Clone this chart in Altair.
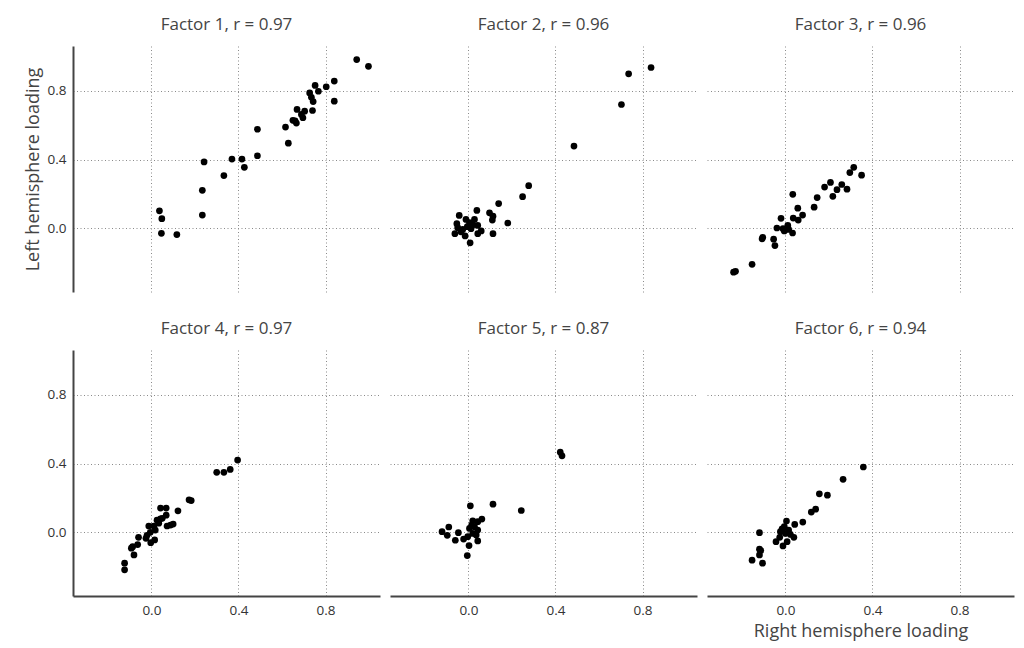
import altair as alt
import pandas as pd

titles = ["Factor 1, r = 0.97", "Factor 2, r = 0.96", "Factor 3, r = 0.96",
          "Factor 4, r = 0.97", "Factor 5, r = 0.87", "Factor 6, r = 0.94"]

f1_right = [0.943, 0.997, 0.840, 0.803, 0.752, 0.767, 0.727, 0.735, 0.743, 0.840, 0.740,
            0.669, 0.704, 0.696, 0.650, 0.666, 0.616, 0.629, 0.487, 0.487, 0.416, 0.370,
            0.427, 0.333, 0.242, 0.234, 0.234, 0.037, 0.048, 0.046, 0.117, 0.689, 0.660]
f1_left = [0.981, 0.942, 0.856, 0.823, 0.831, 0.797, 0.787, 0.762, 0.737, 0.739, 0.685,
           0.691, 0.681, 0.643, 0.628, 0.612, 0.589, 0.495, 0.576, 0.422, 0.403, 0.403,
           0.355, 0.307, 0.386, 0.221, 0.077, 0.102, 0.056, -0.029, -0.036, 0.662, 0.625]

f2_right = [0.839, 0.736, 0.703, 0.485, 0.277, 0.249, 0.181, 0.139, 0.110, 0.113, 0.097,
            0.039, -0.042, -0.053, -0.062, -0.015, 0.008, -0.011, 0.028, 0.043, 0.012,
            0.043, -0.026, 0.005, 0.113, 0.059, -0.034, -0.049, 0.020, -0.005]
f2_left = [0.935, 0.898, 0.720, 0.478, 0.248, 0.184, 0.031, 0.144, 0.048, -0.031, 0.090,
           0.104, 0.075, 0.027, -0.031, -0.044, -0.084, 0.052, 0.052, 0.017, -0.002,
           -0.031, -0.006, 0.033, 0.071, -0.015, -0.020, 0.004, 0.020, 0.010]

f3_right = [0.314, 0.296, 0.350, 0.259, 0.283, 0.237, 0.207, 0.180, 0.218, 0.146, 0.132,
            0.034, 0.057, 0.079, 0.059, 0.036, -0.020, -0.039, -0.011, 0.011, 0.015,
            0.033, -0.005, -0.104, -0.107, -0.054, -0.048, -0.153, -0.229, -0.238]
f3_left = [0.355, 0.324, 0.309, 0.255, 0.228, 0.225, 0.267, 0.240, 0.186, 0.179, 0.123,
           0.198, 0.117, 0.077, 0.048, 0.060, 0.058, 0.002, -0.002, 0.017, -0.006,
           -0.027, -0.015, -0.052, -0.061, -0.063, -0.100, -0.209, -0.250, -0.255]

f4_right = [0.396, 0.362, 0.333, 0.300, 0.183, 0.173, 0.122, 0.100, 0.088, 0.068, 0.042,
            0.068, 0.042, 0.072, 0.026, 0.011, -0.012, 0.018, -0.005, -0.020, 0.015,
            -0.003, -0.025, -0.059, -0.063, -0.086, -0.092, -0.080, -0.123, -0.123,
            0.034, 0.050]
f4_left = [0.420, 0.366, 0.349, 0.349, 0.185, 0.189, 0.125, 0.048, 0.042, 0.141, 0.141,
           0.100, 0.079, 0.037, 0.071, 0.037, 0.037, 0.013, 0.000, -0.017, -0.044,
           -0.060, -0.035, -0.029, -0.071, -0.083, -0.092, -0.131, -0.179, -0.218,
           0.053, 0.082]

f5_right = [0.422, 0.430, 0.243, 0.113, 0.009, 0.062, 0.043, 0.020, 0.028, 0.043, 0.005,
            0.020, -0.003, 0.043, 0.003, -0.005, -0.022, -0.046, -0.060, -0.090, -0.097,
            -0.121, 0.015, 0.036]
f5_left = [0.466, 0.445, 0.127, 0.164, 0.154, 0.077, 0.062, 0.067, 0.033, 0.013, 0.023,
           -0.006, -0.025, -0.050, -0.077, -0.135, -0.039, -0.002, -0.046, 0.031, -0.017,
           0.004, 0.042, -0.015]

f6_right = [0.358, 0.265, 0.156, 0.193, 0.139, 0.119, 0.080, 0.043, 0.005, -0.005, 0.015,
            -0.023, 0.000, 0.039, 0.008, -0.011, -0.043, -0.026, -0.119, -0.119, -0.113,
            -0.119, -0.153, -0.105, -0.015, 0.023]
f6_left = [0.380, 0.308, 0.224, 0.216, 0.135, 0.118, 0.060, 0.046, 0.066, 0.033, 0.013,
           0.004, -0.006, -0.029, -0.054, -0.079, -0.054, -0.029, -0.002, -0.098, -0.106,
           -0.131, -0.162, -0.179, 0.020, -0.012]

series = [(f1_right, f1_left), (f2_right, f2_left), (f3_right, f3_left),
          (f4_right, f4_left), (f5_right, f5_left), (f6_right, f6_left)]

tick_values = [0.0, 0.4, 0.8]
x_domain = [-0.36, 1.05]
y_domain = [-0.37, 1.06]

FONT = "Open Sans"
TXT = "#444444"

charts = []
for i, (title, (xs, ys)) in enumerate(zip(titles, series)):
    df = pd.DataFrame({"right": xs, "left": ys})
    left_col = i % 3 == 0
    bottom_row = i >= 3
    x_axis = alt.Axis(
        values=tick_values, format=".1f", grid=True, ticks=False,
        labels=bottom_row, domain=bottom_row, domainColor=TXT, domainWidth=2,
        labelPadding=7, labelFontSize=13.5, labelColor="#333333", labelFont=FONT,
        title="Right hemisphere loading" if i == 5 else None,
        titleFontSize=18, titleFontWeight="normal", titleColor=TXT, titleFont=FONT,
        titlePadding=6,
        gridColor="#8a8a8a", gridDash=[1, 2.5], gridWidth=1,
    )
    y_axis = alt.Axis(
        values=tick_values, format=".1f", grid=True, ticks=False,
        labels=left_col, domain=left_col, domainColor=TXT, domainWidth=2,
        labelPadding=7, labelFontSize=13.5, labelColor="#333333", labelFont=FONT,
        title="Left hemisphere loading" if i == 0 else None,
        titleFontSize=18, titleFontWeight="normal", titleColor=TXT, titleFont=FONT,
        titlePadding=5,
        gridColor="#8a8a8a", gridDash=[1, 2.5], gridWidth=1,
    )
    c = alt.Chart(df).mark_circle(size=45, color="black", opacity=1).encode(
        x=alt.X("right:Q", scale=alt.Scale(domain=x_domain, nice=False, zero=False), axis=x_axis),
        y=alt.Y("left:Q", scale=alt.Scale(domain=y_domain, nice=False, zero=False), axis=y_axis),
    ).properties(
        width=307, height=246,
        title=alt.TitleParams(title, fontSize=17, font=FONT, fontWeight="normal",
                              color=TXT, offset=12),
    )
    charts.append(c)

chart = alt.concat(*charts, columns=3, spacing={"row": 28, "column": 10}).properties(
    padding={"left": 24, "top": 16, "right": 5, "bottom": 2}
).configure_view(stroke=None)

chart.save("out.html", embed_options={"renderer": "svg", "actions": False})
